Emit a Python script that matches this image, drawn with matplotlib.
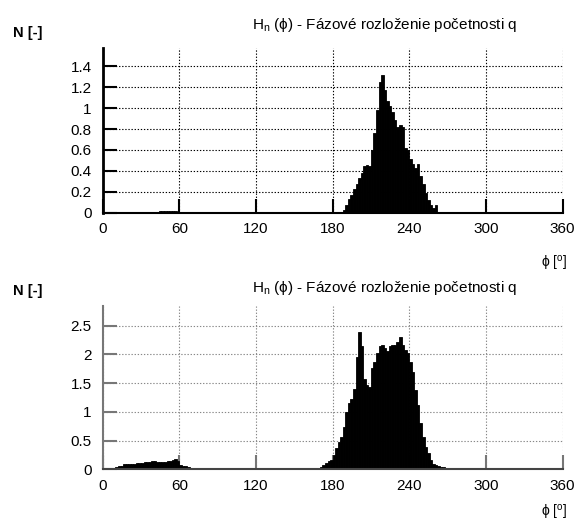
import numpy as np
import matplotlib
matplotlib.use("Agg")
import matplotlib.pyplot as plt
from matplotlib.ticker import FormatStrFormatter

plt.rcParams['font.family'] = ['Liberation Sans', 'DejaVu Sans']
plt.rcParams['mathtext.fontset'] = 'custom'
plt.rcParams['mathtext.rm'] = 'Liberation Sans'
plt.rcParams['mathtext.it'] = 'Liberation Sans:italic'

# ---- data: 2-degree bins, phase in degrees ----
bin_width = 2
x_ticks = [0, 60, 120, 180, 240, 300, 360]

# top panel
top_main_start = 188
top_main_values = [0.03, 0.075, 0.13, 0.17, 0.23, 0.27, 0.33, 0.38, 0.45, 0.46,
                   0.45, 0.60, 0.76, 0.98, 1.25, 1.32, 1.17, 1.07, 1.02, 0.96,
                   0.89, 0.82, 0.84, 0.82, 0.62, 0.60, 0.51, 0.47, 0.43, 0.47,
                   0.35, 0.27, 0.19, 0.12, 0.07, 0.04, 0.07, 0.0, 0.01, 0.01]
top_low_start = 38
top_low_values = [0.01, 0.0, 0.0, 0.012, 0.012, 0.012, 0.012, 0.012, 0.012,
                  0.012, 0.0, 0.0, 0.01]
top_yticks = [0, 0.2, 0.4, 0.6, 0.8, 1.0, 1.2, 1.4]

# bottom panel
bot_main_start = 170
bot_main_values = [0.04, 0.08, 0.11, 0.14, 0.17, 0.24, 0.37, 0.48, 0.57, 0.74,
                   1.00, 1.15, 1.22, 1.39, 1.95, 2.39, 2.14, 1.57, 1.47, 1.44,
                   1.76, 1.87, 2.02, 2.14, 2.17, 2.11, 2.06, 2.14, 2.16, 2.17,
                   2.21, 2.30, 2.17, 2.08, 2.02, 1.87, 1.70, 1.38, 1.12, 0.80,
                   0.57, 0.39, 0.28, 0.17, 0.10, 0.075, 0.06, 0.045, 0.04, 0.03,
                   0.03, 0.02, 0.01, 0.01]
bot_low_start = 0
bot_low_values = [0.005, 0.01, 0.015, 0.02, 0.03, 0.04, 0.05, 0.06, 0.09, 0.10,
                  0.10, 0.10, 0.10, 0.105, 0.11, 0.11, 0.12, 0.12, 0.13, 0.14,
                  0.14, 0.13, 0.13, 0.12, 0.13, 0.14, 0.15, 0.16, 0.18, 0.14,
                  0.08, 0.06, 0.05, 0.04, 0.03, 0.03, 0.02, 0.015, 0.01, 0.005]
bot_yticks = [0, 0.5, 1.0, 1.5, 2.0, 2.5]

title = "H$_{\\mathrm{n}}$ (ϕ) - Fázové rozloženie početnosti q"
ylabel = "N [-]"
xlabel = "ϕ [$^{\\mathrm{o}}$]"


def build(segments):
    edges = np.arange(0, 360 + bin_width, bin_width)
    h = np.zeros(len(edges) - 1)
    for start, vals in segments:
        i0 = start // bin_width
        h[i0:i0 + len(vals)] = vals
    return edges, h


fig = plt.figure(figsize=(5.76, 5.25), dpi=100)

panels = [
    dict(rect=[0.1783, 0.5949, 0.7983, 0.3137], ylim=1.575, yticks=top_yticks,
         segs=[(top_low_start, top_low_values), (top_main_start, top_main_values)],
         gridc='black', tickc='black', title_y=0.952, n_y=0.937, x_y=0.498),
    dict(rect=[0.1783, 0.1061, 0.7983, 0.3110], ylim=2.84, yticks=bot_yticks,
         segs=[(bot_low_start, bot_low_values), (bot_main_start, bot_main_values)],
         gridc='#888888', tickc='#777777', title_y=0.452, n_y=0.445, x_y=0.024),
]

for p in panels:
    ax = fig.add_axes(p['rect'])
    edges, h = build(p['segs'])
    ax.bar(edges[:-1], h, width=bin_width, align='edge', color='black',
           edgecolor='black', linewidth=0.6, zorder=2)
    ax.set_xlim(0, 360)
    ax.set_ylim(0, p['ylim'])
    ax.set_xticks(x_ticks)
    ax.set_yticks(p['yticks'])
    ax.yaxis.set_major_formatter(FormatStrFormatter('%g'))
    ax.set_axisbelow(True)
    ax.grid(True, linestyle=(0, (1.2, 1.6)), color=p['gridc'], linewidth=0.8)
    for s in ['top', 'right']:
        ax.spines[s].set_visible(False)
    ax.spines['left'].set_linewidth(2.0 if p['tickc'] == 'black' else 1.5)
    ax.spines['left'].set_color(p['tickc'])
    ax.spines['bottom'].set_linewidth(1.5)
    ax.spines['bottom'].set_color('black' if p['tickc'] == 'black' else '#444444')
    ax.spines['left'].set_zorder(3)
    ax.spines['bottom'].set_zorder(3)
    ax.tick_params(direction='in', length=10, width=1.5, colors=p['tickc'],
                   labelcolor='black', labelsize=11)
    ax.tick_params(axis='x', pad=7)
    ax.tick_params(axis='y', pad=8)
    fig.text(0.668, p['title_y'], title, ha='center', va='center', fontsize=11)
    fig.text(0.022, p['n_y'], ylabel, ha='left', va='center', fontsize=10.5,
             fontweight='bold')
    fig.text(0.985, p['x_y'], xlabel, ha='right', va='center', fontsize=10)

fig.savefig("out.png", dpi=100)
